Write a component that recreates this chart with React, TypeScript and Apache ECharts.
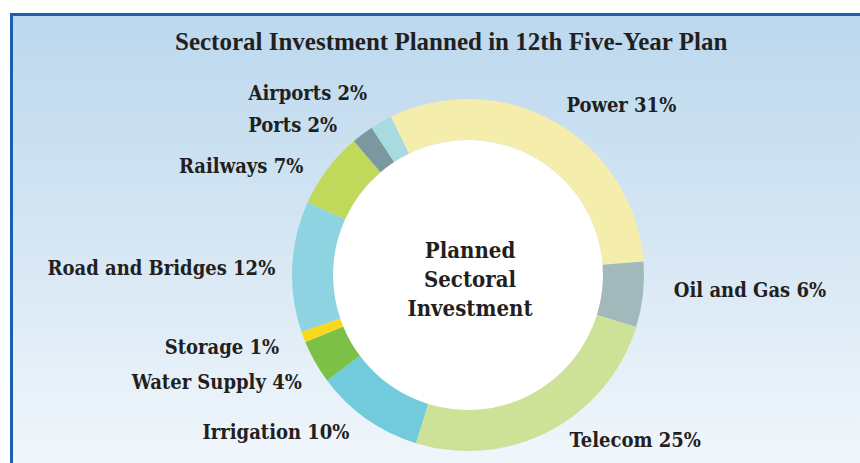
import React, { useEffect, useRef } from "react";
import * as echarts from "echarts";

const categories = [
  "Power",
  "Oil and Gas",
  "Telecom",
  "Irrigation",
  "Water Supply",
  "Storage",
  "Road and Bridges",
  "Railways",
  "Ports",
  "Airports",
];
const shares = [31, 6, 25, 10, 4, 1, 12, 7, 2, 2];
const colors = [
  "#F5EDAB",
  "#A2B9BC",
  "#CDE197",
  "#72CBDD",
  "#7CC145",
  "#F9D81E",
  "#8DD3E1",
  "#C0D95B",
  "#7B98A0",
  "#A7DBE0",
];
// nudges of the outside labels (style only)
const labelNudgeX = [-9, 4, 0, 4, 12, 2, 10, 0, -4, 6];
const labelNudgeY = [-5, -6, -3, 2, 13, 5, 2, 5, 2, -17];
const titleText = "Sectoral Investment Planned in 12th Five-Year Plan";
const centerText = "Planned\nSectoral\nInvestment";

const LABEL_FONT = "'DejaVu Serif Condensed', 'DejaVu Serif', serif";
const CX = 468;
const CY = 275;
const R_IN = 135;
const R_OUT = 176;

export default function App() {
  const ref = useRef<HTMLDivElement>(null);
  useEffect(() => {
    if (!ref.current) return;
    const chart = echarts.init(ref.current, null, { renderer: "svg" });
    chart.setOption({
      animation: false,
      title: {
        text: titleText,
        left: 170,
        top: 24,
        textStyle: {
          fontFamily: "'Liberation Serif', serif",
          fontWeight: "bold",
          fontSize: 25,
          color: "#231F20",
        },
      },
      graphic: [
        {
          type: "circle",
          z: 0,
          silent: true,
          shape: { cx: CX, cy: CY, r: R_IN },
          style: { fill: "#ffffff" },
        },
        {
          type: "text",
          z: 10,
          x: CX + 2,
          y: 235,
          style: {
            text: centerText,
            fontFamily: LABEL_FONT,
            fontWeight: "bold",
            fontSize: 22,
            lineHeight: 29,
            textAlign: "center",
            fill: "#231F20",
          },
        },
      ],
      series: [
        {
          type: "pie",
          center: [CX, CY],
          radius: [R_IN, R_OUT],
          startAngle: 116,
          clockwise: true,
          avoidLabelOverlap: false,
          label: {
            show: true,
            position: "outside",
            formatter: (p: any) => `${p.name} ${p.value}%`,
            fontFamily: LABEL_FONT,
            fontWeight: "bold",
            fontSize: 20,
            color: "#231F20",
          },
          labelLine: { show: false, length: 14, length2: 8 },
          labelLayout: (params: any) => ({
            dx: labelNudgeX[params.dataIndex],
            dy: labelNudgeY[params.dataIndex],
          }),
          itemStyle: { borderWidth: 0 },
          emphasis: { disabled: true },
          data: categories.map((c, i) => ({
            name: c,
            value: shares[i],
            itemStyle: { color: colors[i] },
          })),
        },
      ],
    });
    return () => chart.dispose();
  }, []);
  return (
    <div
      style={{
        position: "fixed",
        left: 0,
        top: 0,
        width: 860,
        height: 463,
        background: "#ffffff",
        overflow: "hidden",
      }}
    >
      <div
        style={{
          position: "absolute",
          left: 10,
          top: 13,
          width: 900,
          height: 500,
          boxSizing: "border-box",
          border: "3px solid #1B5FB0",
          background: "linear-gradient(180deg, #BCD8EE 0%, #D5E6F3 45%, #F6FAFD 100%)",
        }}
      />
      <div
        ref={ref}
        style={{ position: "absolute", left: 0, top: 0, width: 860, height: 463 }}
      />
    </div>
  );
}
